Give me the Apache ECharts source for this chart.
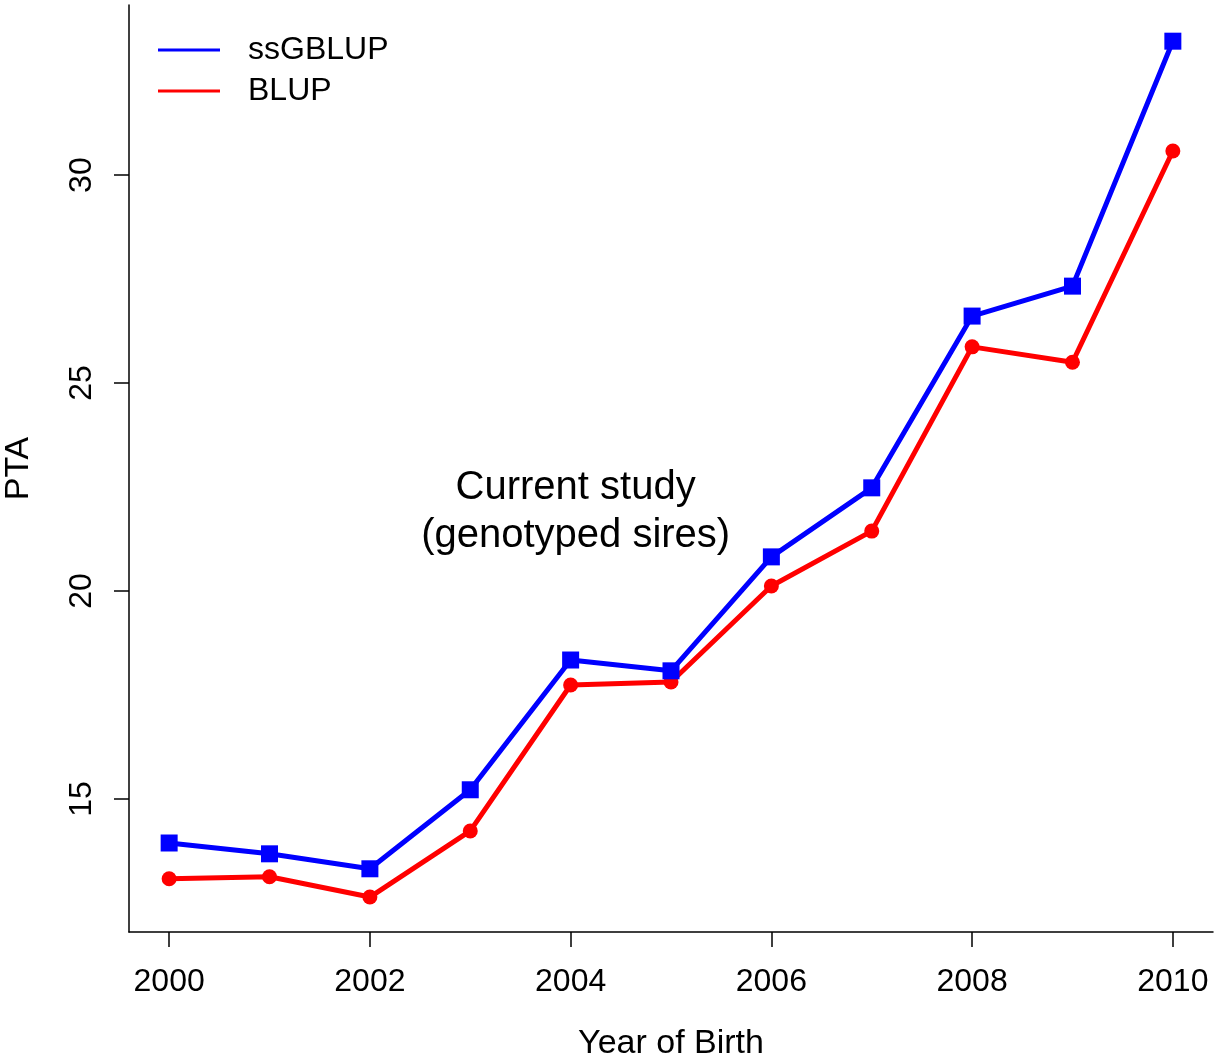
<!DOCTYPE html>
<html>
<head>
<meta charset="utf-8">
<script src="https://cdn.jsdelivr.net/npm/echarts@6/dist/echarts.min.js"></script>
<style>
  html, body { margin: 0; padding: 0; background: #ffffff; }
  #chart { width: 1216px; height: 1061px; }
</style>
</head>
<body>
<div id="chart"></div>
<script>
// ---- data ----
const years = [2000, 2001, 2002, 2003, 2004, 2005, 2006, 2007, 2008, 2009, 2010];
const ssGBLUP = [13.94, 13.68, 13.32, 15.22, 18.34, 18.08, 20.82, 22.48, 26.61, 27.33, 33.22];
const BLUP = [13.08, 13.13, 12.64, 14.23, 17.74, 17.81, 20.12, 21.44, 25.87, 25.50, 30.58];
const xTicks = [2000, 2002, 2004, 2006, 2008, 2010];
const yTicks = [15, 20, 25, 30];
const seriesNames = ['ssGBLUP', 'BLUP'];
const annotationLines = ['Current study', '(genotyped sires)'];
const annotationAt = [2004.05, 21.9];

const FONT = '"Liberation Sans", Arial, Helvetica, sans-serif';
const chart = echarts.init(document.getElementById('chart'), null, { renderer: 'canvas' });

const pairs = (xs, ys) => xs.map((x, i) => [x, ys[i]]);

chart.setOption({
  animation: false,
  backgroundColor: '#ffffff',
  textStyle: { fontFamily: FONT, color: '#000' },
  grid: { left: 129, right: 3, top: 5, bottom: 129, containLabel: false, outerBoundsMode: 'none' },
  legend: {
    data: seriesNames,
    orient: 'vertical',
    left: 153,
    top: 29,
    itemWidth: 62,
    itemHeight: 3,
    itemGap: 9,
    icon: 'rect',
    textStyle: { fontFamily: FONT, fontSize: 32, color: '#000', padding: [0, 0, 0, 23] }
  },
  xAxis: {
    type: 'value',
    min: 1999.6,
    max: 2010.4,
    name: 'Year of Birth',
    nameLocation: 'middle',
    nameGap: 95,
    nameTextStyle: { fontFamily: FONT, fontSize: 34, color: '#000' },
    axisLine: { show: true, onZero: false, lineStyle: { color: '#000', width: 1.5 } },
    axisTick: { show: true, inside: false, length: 15, customValues: xTicks, lineStyle: { color: '#000', width: 1.5 } },
    axisLabel: { show: true, margin: 34, customValues: xTicks, fontFamily: FONT, fontSize: 32, color: '#000', formatter: v => String(v) },
    splitLine: { show: false }
  },
  yAxis: {
    type: 'value',
    min: 11.8,
    max: 34.09,
    name: 'PTA',
    nameLocation: 'middle',
    nameGap: 93,
    nameRotate: 90,
    nameTextStyle: { fontFamily: FONT, fontSize: 34, color: '#000' },
    axisLine: { show: true, onZero: false, lineStyle: { color: '#000', width: 1.5 } },
    axisTick: { show: true, inside: false, length: 15, customValues: yTicks, lineStyle: { color: '#000', width: 1.5 } },
    axisLabel: { show: true, rotate: 90, margin: 31, customValues: yTicks, fontFamily: FONT, fontSize: 32, color: '#000' },
    splitLine: { show: false }
  },
  series: [
    {
      name: 'BLUP',
      type: 'line',
      data: pairs(years, BLUP),
      symbol: 'circle',
      symbolSize: 15,
      lineStyle: { color: '#ff0000', width: 5 },
      itemStyle: { color: '#ff0000' },
      z: 2
    },
    {
      name: 'ssGBLUP',
      type: 'line',
      data: pairs(years, ssGBLUP),
      symbol: 'rect',
      symbolSize: 17,
      lineStyle: { color: '#0000ff', width: 5 },
      itemStyle: { color: '#0000ff' },
      z: 3
    }
  ]
});

const p = chart.convertToPixel({ gridIndex: 0 }, annotationAt);
chart.setOption({
  graphic: [{
    type: 'text',
    x: p[0],
    y: p[1],
    style: {
      text: annotationLines.join('\n'),
      fontFamily: FONT,
      fontSize: 40,
      lineHeight: 48,
      fill: '#000',
      align: 'center',
      verticalAlign: 'middle'
    }
  }]
});
</script>
</body>
</html>
